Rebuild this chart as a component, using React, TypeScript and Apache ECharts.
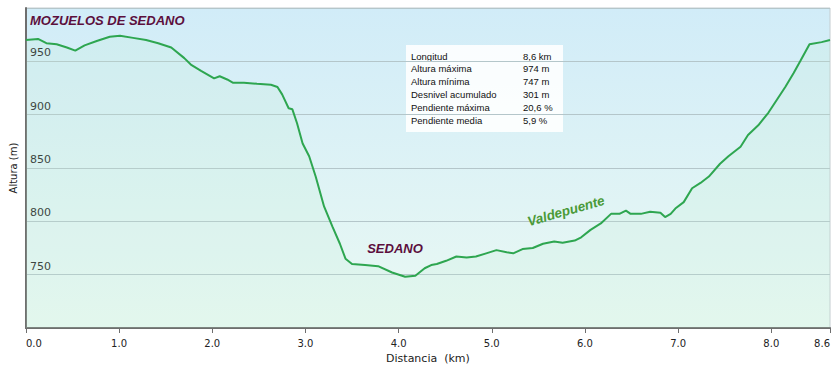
import React, { useEffect, useRef } from "react";
import * as echarts from "echarts";

const distances = [0.0, 0.13, 0.22, 0.33, 0.44, 0.53, 0.63, 0.76, 0.9, 1.01, 1.15, 1.29, 1.42, 1.56, 1.7, 1.77, 1.88, 2.02, 2.08, 2.16, 2.22, 2.34, 2.48, 2.63, 2.7, 2.75, 2.82, 2.86, 2.91, 2.97, 3.04, 3.11, 3.2, 3.29, 3.37, 3.43, 3.5, 3.64, 3.78, 3.93, 4.07, 4.18, 4.28, 4.35, 4.41, 4.51, 4.62, 4.73, 4.83, 4.94, 5.05, 5.16, 5.23, 5.33, 5.44, 5.55, 5.67, 5.76, 5.89, 5.96, 6.06, 6.17, 6.28, 6.37, 6.44, 6.49, 6.6, 6.7, 6.81, 6.86, 6.92, 6.97, 7.06, 7.15, 7.24, 7.33, 7.45, 7.54, 7.67, 7.75, 7.86, 7.97, 8.06, 8.15, 8.24, 8.31, 8.41, 8.54, 8.63];
const elevations = [970, 971, 967, 966, 963, 960, 965, 969, 973, 974, 972, 970, 967, 963, 953, 947, 941, 934, 936, 933, 930, 930, 929, 928, 926, 919, 906, 905, 892, 873, 861, 842, 814, 795, 779, 765, 760, 759, 758, 752, 748, 749, 756, 759, 760, 763, 767, 766, 767, 770, 773, 771, 770, 774, 775, 779, 781, 780, 782, 785, 792, 798, 807, 807, 810, 807, 807, 809, 808, 804, 807, 812, 818, 831, 836, 842, 854, 861, 870, 881, 890, 902, 914, 926, 939, 950, 966, 968, 970];

const statLabels = ["Longitud", "Altura máxima", "Altura mínima", "Desnivel acumulado", "Pendiente máxima", "Pendiente media"];
const statValues = ["8,6 km", "974 m", "747 m", "301 m", "20,6 %", "5,9 %"];

const titleText = "MOZUELOS DE SEDANO";
const placeLabels = ["SEDANO", "Valdepuente"];

export default function App() {
  const ref = useRef<HTMLDivElement>(null);
  useEffect(() => {
    if (!ref.current) return;
    const chart = echarts.init(ref.current, null, { renderer: "svg" });
    const data = distances.map((d, i) => [d, elevations[i]]);
    const axisFont = "DejaVu Sans";
    const statFont = "Liberation Sans";
    const boldItalic = "Liberation Sans";

    const statChildren: any[] = [
      {
        type: "rect",
        shape: { x: 0, y: 0, width: 157, height: 87 },
        style: { fill: "rgba(255,255,255,0.88)", stroke: "none" },
      },
    ];
    statLabels.forEach((l, i) => {
      statChildren.push({
        type: "text",
        x: 5,
        y: 11 + i * 12.8,
        style: { text: l, fill: "#111", font: `9.5px ${statFont}`, textAlign: "left", textVerticalAlign: "middle" },
      });
      statChildren.push({
        type: "text",
        x: 117,
        y: 11 + i * 12.8,
        style: { text: statValues[i], fill: "#111", font: `9.5px ${statFont}`, textAlign: "left", textVerticalAlign: "middle" },
      });
    });

    chart.setOption({
      animation: false,
      backgroundColor: "#ffffff",
      grid: {
        left: 23,
        right: 8,
        top: 8,
        bottom: 48,
        show: true,
        borderColor: "#c4ccd0",
        borderWidth: 1,
        backgroundColor: new echarts.graphic.LinearGradient(0, 0, 0, 1, [
          { offset: 0, color: "#d1ecf8" },
          { offset: 1, color: "#eaf9f3" },
        ]),
      },
      xAxis: {
        type: "value",
        min: 0,
        max: 8.63,
        interval: 1,
        name: "Distancia  (km)",
        nameLocation: "middle",
        nameGap: 25,
        nameTextStyle: { fontFamily: axisFont, fontSize: 11, color: "#222" },
        axisLine: { show: true, lineStyle: { color: "#6e6e6e", width: 2 } },
        axisTick: { show: true, length: 5, lineStyle: { color: "#6e6e6e" } },
        splitLine: { show: false },
        axisLabel: {
          fontFamily: axisFont,
          fontSize: 10,
          color: "#222",
          margin: 10,
          alignMinLabel: "left",
          alignMaxLabel: "right",
          formatter: (v: number) => v.toFixed(1),
        },
      },
      yAxis: {
        type: "value",
        min: 700,
        max: 1000,
        interval: 50,
        name: "Altura (m)",
        nameLocation: "middle",
        nameGap: 5,
        nameTextStyle: { fontFamily: axisFont, fontSize: 10, color: "#222" },
        axisLine: { show: true, lineStyle: { color: "#6e6e6e", width: 2 } },
        axisTick: { show: false },
        splitLine: { show: true, lineStyle: { color: "#b4c6ca", width: 1 } },
        axisLabel: {
          inside: true,
          showMinLabel: false,
          showMaxLabel: false,
          fontFamily: axisFont,
          fontSize: 11,
          color: "#222",
          margin: 4,
          verticalAlign: "bottom",
          padding: [0, 0, 3, 0],
        },
      },
      series: [
        {
          type: "line",
          data,
          showSymbol: false,
          symbol: "none",
          lineStyle: { color: "#2ea650", width: 2 },
          areaStyle: { color: "rgba(190,240,210,0.25)" },
          z: 3,
        },
      ],
      graphic: [
        {
          type: "text",
          left: 30,
          top: 14,
          style: { text: titleText, fill: "#5c0f3d", font: `italic bold 13px ${boldItalic}` },
          z: 10,
        },
        {
          type: "text",
          x: 395,
          y: 248,
          style: { text: placeLabels[0], fill: "#5c0f3d", font: `italic bold 13px ${boldItalic}`, textAlign: "center", textVerticalAlign: "middle" },
          z: 10,
        },
        {
          type: "text",
          x: 566,
          y: 211,
          rotation: 0.28,
          style: { text: placeLabels[1], fill: "#4a9a38", font: `italic bold 13.5px ${boldItalic}`, textAlign: "center", textVerticalAlign: "middle" },
          z: 10,
        },
        {
          type: "group",
          x: 406,
          y: 45,
          z: 10,
          children: statChildren,
        },
      ],
    });
    return () => chart.dispose();
  }, []);
  return <div ref={ref} style={{ position: "fixed", left: 0, top: 0, width: 838, height: 376 }} />;
}
